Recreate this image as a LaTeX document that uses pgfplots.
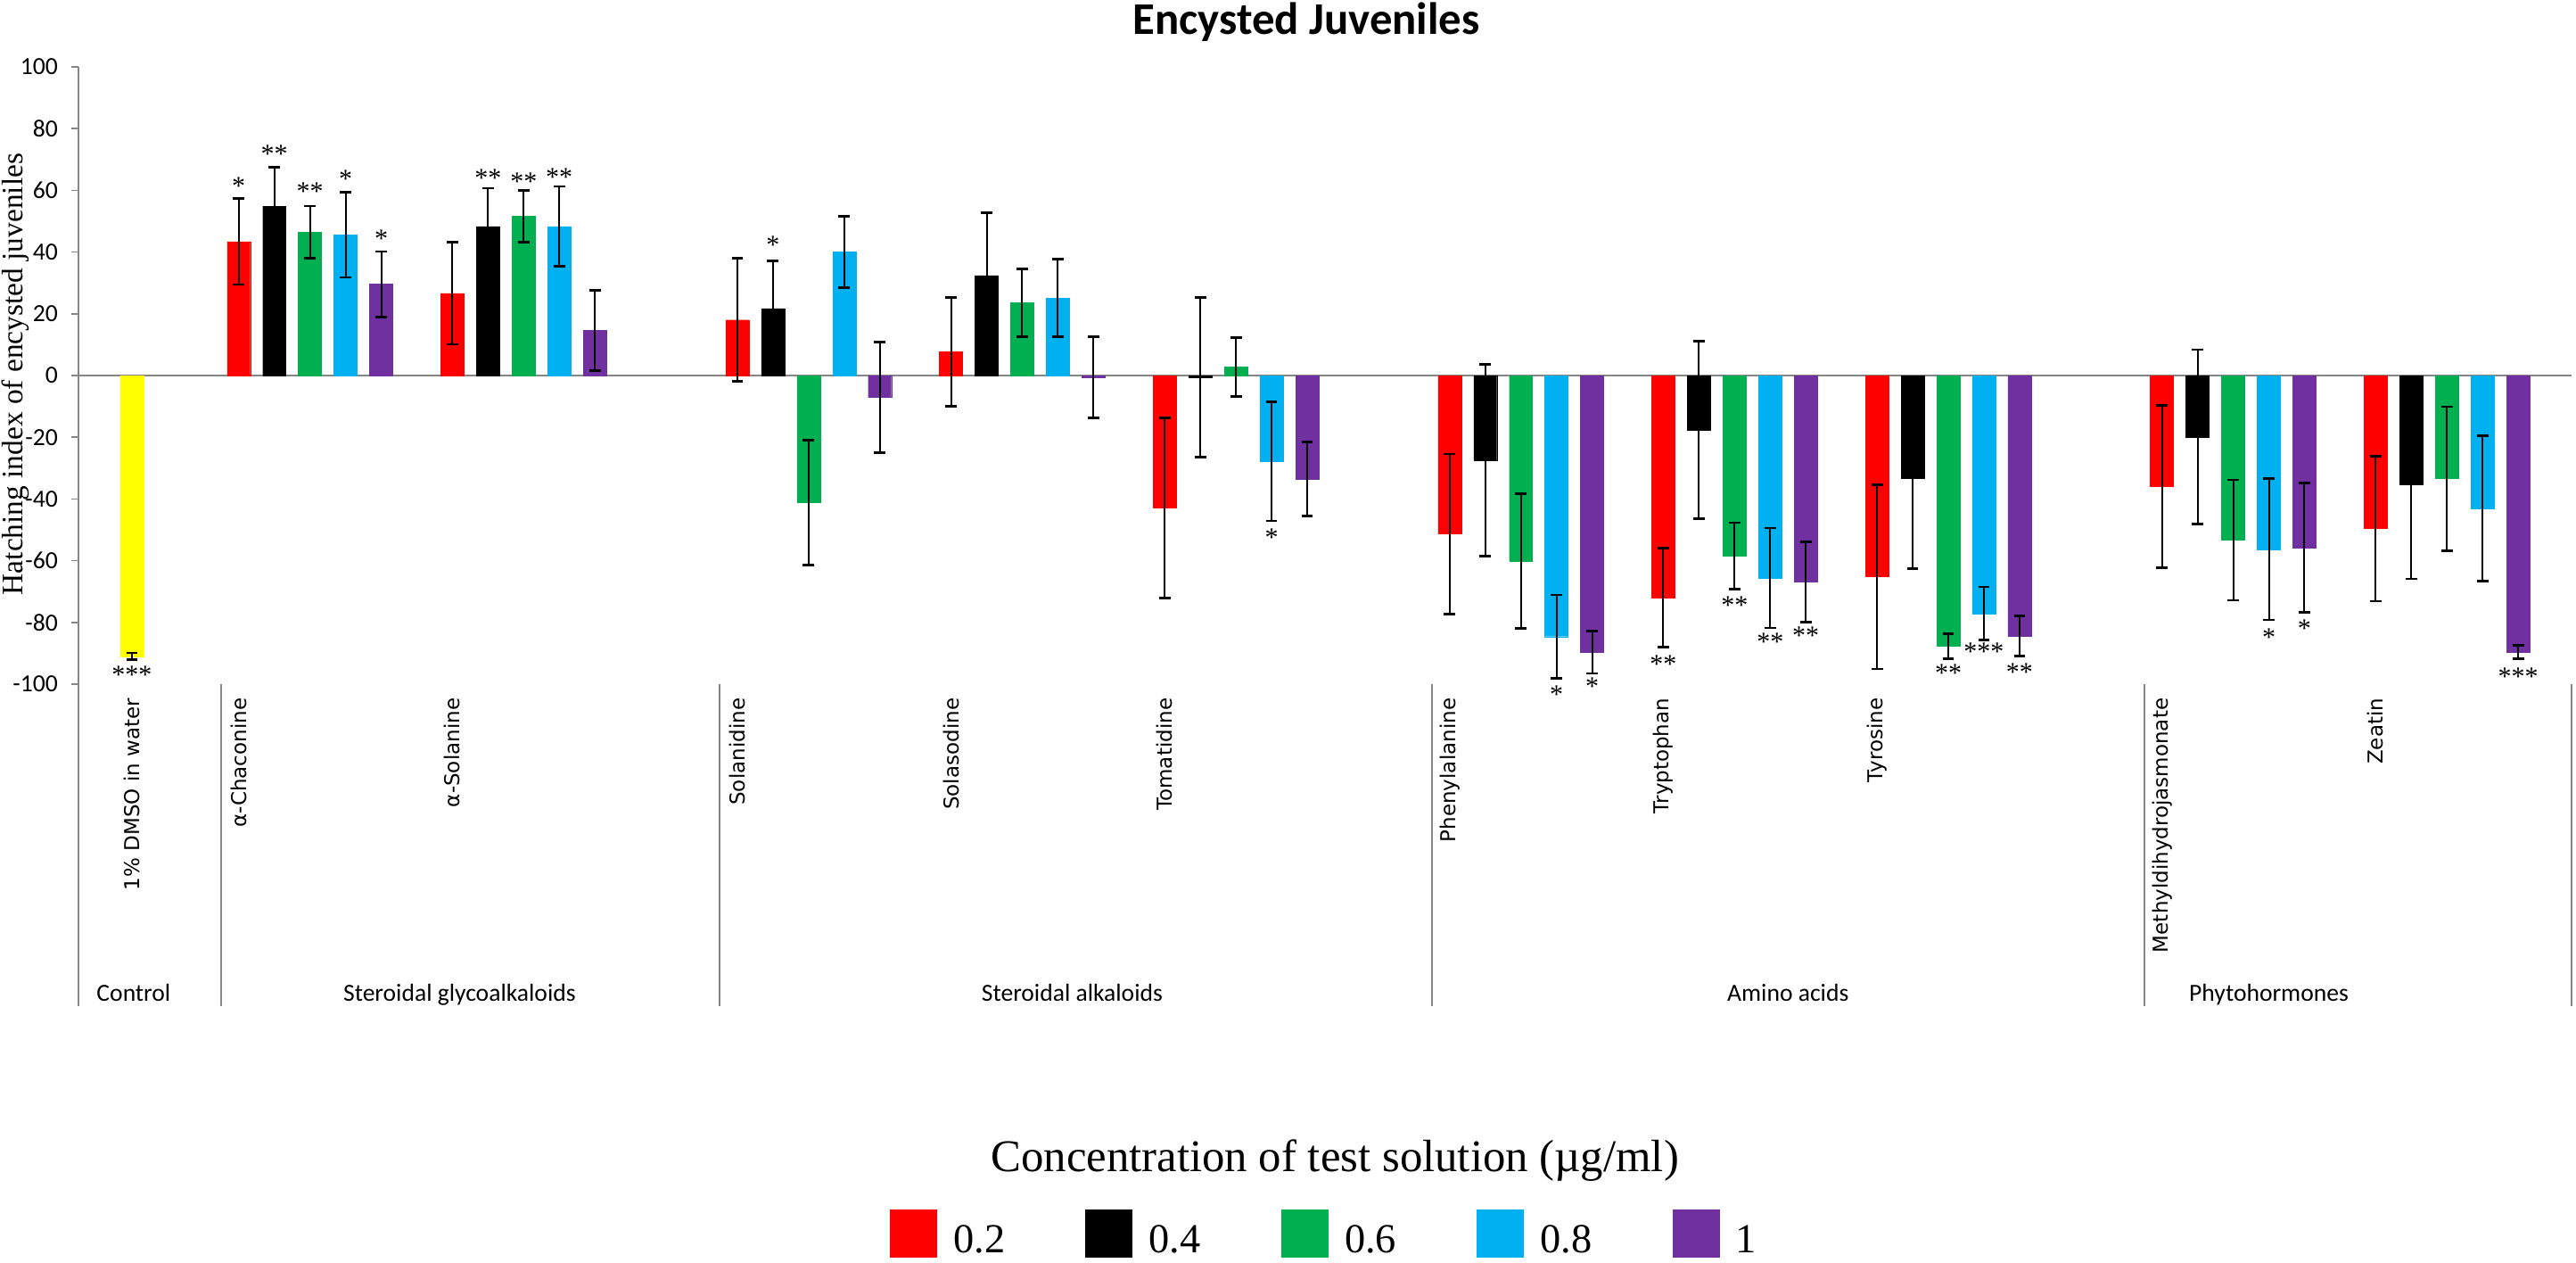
\documentclass[border=0pt]{standalone}
\usepackage{fontspec}
\setmainfont{Liberation Serif}
\newfontfamily\carlito{Carlito}
\newfontfamily\dejavu{DejaVu Sans}
\usepackage{pgfplots}
\usepackage{pgfplotstable}
\pgfplotsset{compat=1.18}
\definecolor{cred}{RGB}{255,0,0}
\definecolor{cblack}{RGB}{0,0,0}
\definecolor{cgreen}{RGB}{0,176,80}
\definecolor{ccyan}{RGB}{0,176,240}
\definecolor{cpurple}{RGB}{112,48,160}
\definecolor{cyellow}{RGB}{255,255,0}
\definecolor{axisgray}{RGB}{134,134,134}

% x = bar position, y = hatching index, e = error (+/-)
\pgfplotstableread{
x y e
1.5 -91.0 1.1
}\tctrl
\pgfplotstableread{
x y e
4.5 43.4 13.9
10.5 26.6 16.5
18.5 18.0 19.9
24.5 7.7 17.6
30.5 -42.9 29.2
38.5 -51.3 25.9
44.5 -71.9 16.0
50.5 -65.2 29.9
58.5 -35.9 26.3
64.5 -49.6 23.5
}\tA
\pgfplotstableread{
x y e
5.5 54.9 12.5
11.5 48.3 12.4
19.5 21.7 15.5
25.5 32.4 20.3
31.5 -0.5 25.9
39.5 -27.4 31.1
45.5 -17.6 28.8
51.5 -33.2 29.4
59.5 -19.9 28.3
65.5 -35.4 30.5
}\tB
\pgfplotstableread{
x y e
6.5 46.4 8.5
12.5 51.6 8.3
20.5 -41.2 20.3
26.5 23.6 11.0
32.5 2.7 9.6
40.5 -60.1 21.8
46.5 -58.5 10.8
52.5 -87.7 4.1
60.5 -53.3 19.5
66.5 -33.4 23.3
}\tC
\pgfplotstableread{
x y e
7.5 45.6 13.8
13.5 48.3 13.0
21.5 40.0 11.6
27.5 25.1 12.6
33.5 -27.8 19.3
41.5 -84.6 13.5
47.5 -65.6 16.2
53.5 -77.1 8.6
61.5 -56.3 22.9
67.5 -43.0 23.6
}\tD
\pgfplotstableread{
x y e
8.5 29.6 10.6
14.5 14.6 13.0
22.5 -7.1 18.0
28.5 -0.6 13.2
34.5 -33.5 12.0
42.5 -89.6 6.9
48.5 -66.9 12.9
54.5 -84.4 6.5
62.5 -55.8 20.9
68.5 -89.6 2.1
}\tE
\pgfplotstableread{
x y s
1.5 -96.5 ***
4.5 61.8 *
5.5 72.3 **
6.5 60.1 **
7.5 64.2 *
8.5 44.8 *
11.5 64.5 **
12.5 63.3 **
13.5 64.7 **
19.5 42.9 *
33.5 -52.0 *
41.5 -102.8 *
42.5 -100.3 *
44.5 -93.0 **
46.5 -73.9 **
47.5 -85.9 **
48.5 -83.8 **
52.5 -95.8 **
53.5 -89.1 ***
54.5 -95.5 **
61.5 -84.5 *
62.5 -81.6 *
68.5 -97.0 ***
}\tstars

\pgfplotsset{
  errb/.style={ybar, bar width=0.65, bar shift=0pt, line width=0.1pt,
    error bars/y dir=both, error bars/y explicit,
    error bars/error mark=-,
    error bars/error bar style={draw=black, solid, line width=0.5pt},
    error bars/error mark options={draw=black, solid, line width=0.7pt, mark size=1.6pt, rotate=90}},
}

\begin{document}
\begin{tikzpicture}
\path[use as bounding box] (0,0) rectangle (722.25pt,-353.75pt);
\begin{axis}[
  at={(22pt,-191.75pt)}, anchor=south west,
  scale only axis, width=699pt, height=173pt,
  xmin=0, xmax=70, ymin=-100, ymax=100,
  enlargelimits=false,
  axis lines*=left,
  x axis line style={draw=none},
  y axis line style={-, draw=axisgray, line width=0.4pt},
  tick align=outside,
  major tick length=2pt,
  ytick={-100,-80,-60,-40,-20,0,20,40,60,80,100},
  yticklabels={-100,-80,-60,-40,-20,0,20,40,60,80,100},
  ytick style={draw=axisgray, line width=0.4pt},
  yticklabel style={font=\carlito\fontsize{6.9}{8}\selectfont, inner sep=0pt, xshift=-3.6pt},
  xtick={1.5,4.5,10.5,18.5,24.5,30.5,38.5,44.5,50.5,58.5,64.5},
  xticklabels={1\% DMSO in water, α-Chaconine, α-Solanine, Solanidine, Solasodine, Tomatidine, Phenylalanine, Tryptophan, Tyrosine, Methyldihydrojasmonate, Zeatin},
  xtick style={draw=none},
  xticklabel style={yshift=-1.75pt, rotate=90, anchor=east, inner sep=0pt, font=\dejavu\fontsize{5.75}{6}\selectfont},
  clip=false,
  title={Encysted Juveniles},
  every axis title shift=0pt,
  title style={at={(axis description cs:0.4925,1.0535)}, anchor=base, inner sep=0pt, font=\carlito\bfseries\fontsize{12.7}{14}\selectfont},
  ylabel={Hatching index of encysted juveniles},
  ylabel style={at={(axis description cs:-0.0225,0.5022)}, anchor=base, inner sep=0pt, font=\fontsize{8.35}{9}\selectfont},
  legend columns=5,
  legend style={at={(axis description cs:0.4993,-0.8909)}, anchor=center, draw=none, fill=none, inner sep=0pt,
    font=\fontsize{11.6}{12}\selectfont,
    /tikz/every odd column/.append style={column sep=4.75pt},
    /tikz/every even column/.append style={column sep=22.5pt},
    nodes={inner sep=0pt}},
  legend image code/.code={\fill[#1] (0pt,-4.25pt) rectangle (13pt,9pt);},
  legend cell align=left,
]
\draw[axisgray, line width=0.4pt] (axis cs:0,0) -- (axis cs:70,0);
\draw[axisgray, line width=0.4pt] (axis cs:0,-100) -- (axis cs:0,-204.3);
\draw[axisgray, line width=0.4pt] (axis cs:4,-100) -- (axis cs:4,-204.3);
\draw[axisgray, line width=0.4pt] (axis cs:18,-100) -- (axis cs:18,-204.3);
\draw[axisgray, line width=0.4pt] (axis cs:38,-100) -- (axis cs:38,-204.3);
\draw[axisgray, line width=0.4pt] (axis cs:58,-100) -- (axis cs:58,-204.3);
\draw[axisgray, line width=0.4pt] (axis cs:70,-100) -- (axis cs:70,-204.3);

\addplot[errb, fill=cyellow, draw=cyellow, forget plot] table[x=x, y=y, y error=e] {\tctrl};
\addplot[errb, fill=cred, draw=cred] table[x=x, y=y, y error=e] {\tA};
\addlegendentry{0.2}
\addplot[errb, fill=cblack, draw=cblack] table[x=x, y=y, y error=e] {\tB};
\addlegendentry{0.4}
\addplot[errb, fill=cgreen, draw=cgreen] table[x=x, y=y, y error=e] {\tC};
\addlegendentry{0.6}
\addplot[errb, fill=ccyan, draw=ccyan] table[x=x, y=y, y error=e] {\tD};
\addlegendentry{0.8}
\addplot[errb, fill=cpurple, draw=cpurple] table[x=x, y=y, y error=e] {\tE};
\addlegendentry{1}

\addplot[draw=none, mark=none, forget plot, point meta=explicit symbolic,
  nodes near coords={\smash{\raisebox{-3.6pt}{\pgfplotspointmeta}}},
  nodes near coords style={inner sep=0pt, font=\fontsize{7.5}{8}\selectfont}]
  table[x=x, y=y, meta=s] {\tstars};

\node[anchor=base, inner sep=0pt, font=\carlito\fontsize{6.9}{8}\selectfont] at (axis cs:1.55,-202.6) {Control};
\node[anchor=base, inner sep=0pt, font=\carlito\fontsize{6.9}{8}\selectfont] at (axis cs:10.7,-202.6) {Steroidal glycoalkaloids};
\node[anchor=base, inner sep=0pt, font=\carlito\fontsize{6.9}{8}\selectfont] at (axis cs:27.9,-202.6) {Steroidal alkaloids};
\node[anchor=base, inner sep=0pt, font=\carlito\fontsize{6.9}{8}\selectfont] at (axis cs:48.0,-202.6) {Amino acids};
\node[anchor=base, inner sep=0pt, font=\carlito\fontsize{6.9}{8}\selectfont] at (axis cs:61.5,-202.6) {Phytohormones};
\node[anchor=base, inner sep=0pt, font=\fontsize{12.7}{14}\selectfont] at (axis cs:35.28,-257.8) {Concentration of test solution (µg/ml)};
\end{axis}
\end{tikzpicture}
\end{document}
